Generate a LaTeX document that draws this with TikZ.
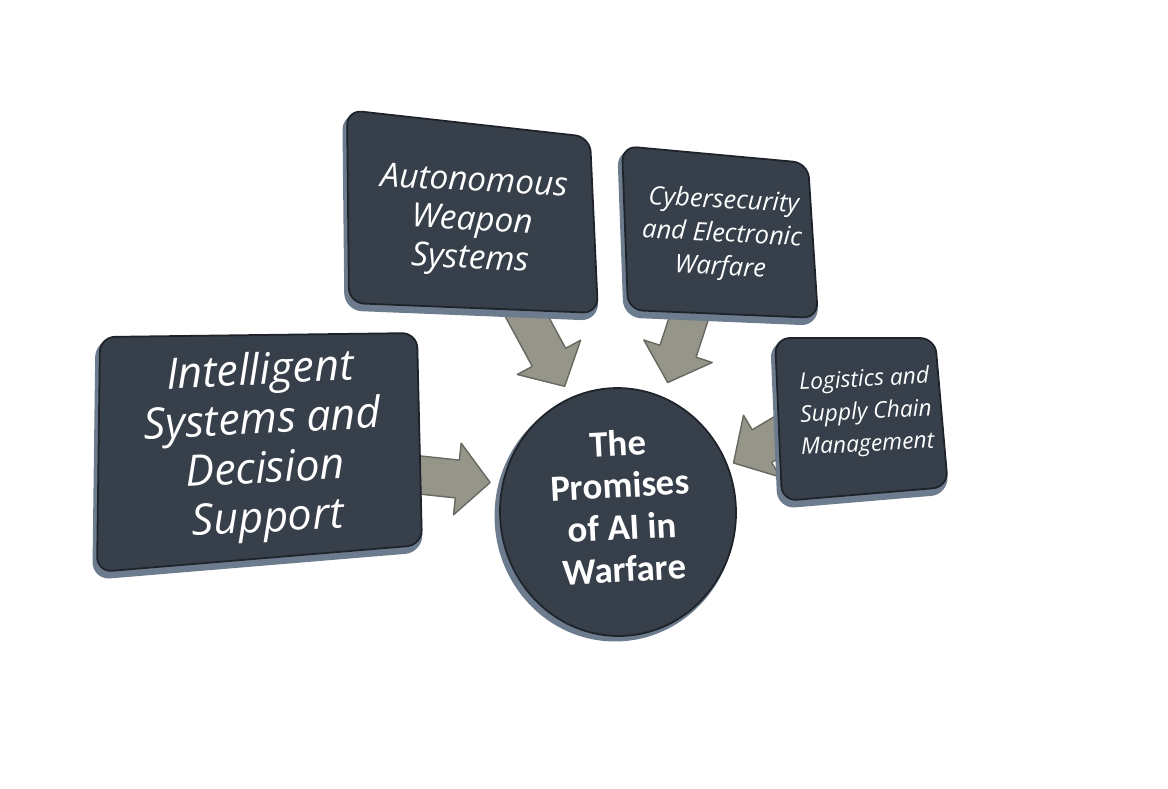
\documentclass[tikz,border=0pt]{standalone}
\usepackage{fontspec}
\setmainfont{Open Sans}
\newfontfamily\corefont{Carlito}
\usetikzlibrary{calc,shapes.geometric}

\definecolor{slate}{RGB}{54,63,74}
\definecolor{slateedge}{RGB}{30,35,42}
\definecolor{rimblue}{RGB}{108,124,142}
\definecolor{arrowfill}{RGB}{150,149,138}
\definecolor{arrowedge}{RGB}{105,104,96}

\tikzset{
  panel/.style={fill=slate,draw=slateedge,line width=1pt,rounded corners=0.3cm},
  rim/.style={fill=rimblue,draw=rimblue,line width=3pt,rounded corners=0.3cm},
  boxtext/.style={text=white,align=center},
  arrowbody/.style={fill=arrowfill,draw=arrowedge,line width=0.8pt,line join=round}
}

\newcommand{\fatarrow}[2]{%
  \coordinate (fa-s) at ($(#1)!-0.5cm!(#2)$);
  \coordinate (fa-h) at ($(#2)!0.66cm!(#1)$);
  \filldraw[arrowbody] ($(fa-s)!0.38cm!90:(#2)$) -- ($(fa-h)!0.38cm!90:(#2)$)
    -- ($(fa-h)!0.72cm!90:(#2)$) -- (#2) -- ($(fa-h)!0.72cm!-90:(#2)$)
    -- ($(fa-h)!0.38cm!-90:(#2)$) -- ($(fa-s)!0.38cm!-90:(#2)$) -- cycle;}

\newcommand{\drawpanel}[1]{%
  \filldraw[rim] ([shift={(-2,5)}]#1-nw) -- ([shift={(-2,5)}]#1-ne)
    -- ([shift={(-2,5)}]#1-se) -- ([shift={(-2,5)}]#1-sw) -- cycle;
  \draw[panel] (#1-nw) -- (#1-ne) -- (#1-se) -- (#1-sw) -- cycle;}

\begin{document}
\begin{tikzpicture}[x=0.02cm,y=-0.02cm]
\useasboundingbox (0,0) rectangle (1168,788);

\coordinate (isds-nw) at (100,337); \coordinate (isds-ne) at (417,333);
\coordinate (isds-se) at (422,545); \coordinate (isds-sw) at (97,572);
\coordinate (aws-nw) at (347,110); \coordinate (aws-ne) at (590,137);
\coordinate (aws-se) at (598,313); \coordinate (aws-sw) at (349,303);
\coordinate (cew-nw) at (622,146); \coordinate (cew-ne) at (808,163);
\coordinate (cew-se) at (818,318); \coordinate (cew-sw) at (628,310);
\coordinate (lscm-nw) at (775,338); \coordinate (lscm-ne) at (935,338);
\coordinate (lscm-se) at (948,487); \coordinate (lscm-sw) at (782,501);

% centre
\fill[rimblue] (615,516) ellipse (2.41cm and 2.51cm);
\node[ellipse,fill=slate,draw=slateedge,line width=1pt,inner sep=0pt,
  minimum width=4.72cm,minimum height=4.96cm,rotate=3] (core) at (618,512) {};
\node[boxtext,rotate=3,font=\corefont\bfseries\fontsize{21}{24}\selectfont]
  (corelbl) at (621,506) {The\\Promises\\of AI in\\Warfare};

\coordinate (t1) at ($(core.center)!1.1!(core.164)$);
\coordinate (t2) at ($(core.center)!1.1!(core.110)$);
\coordinate (t3) at ($(core.center)!1.12!(core.66)$);
\coordinate (t4) at ($(core.center)!1.05!(core.20)$);
\coordinate (b1) at ($(isds-ne)!0.67!(isds-se)$);
\coordinate (b2) at ($(aws-sw)!0.7!(aws-se)$);
\coordinate (b3) at ($(cew-sw)!0.33!(cew-se)$);
\coordinate (b4) at ($(lscm-nw)!0.6!(lscm-sw)$);
\fatarrow{b1}{t1}
\fatarrow{b2}{t2}
\fatarrow{b3}{t3}
\fatarrow{b4}{t4}

\drawpanel{isds}
\drawpanel{aws}
\drawpanel{cew}
\drawpanel{lscm}

\node[boxtext,rotate=3,font=\itshape\fontsize{24.5}{28}\selectfont] (isds) at (264,447)
  {Intelligent\\Systems and\\Decision\\Support};
\node[boxtext,rotate=-3,font=\itshape\fontsize{19}{22}\selectfont] (aws) at (472,222)
  {Autonomous\\Weapon\\Systems};
\node[boxtext,rotate=-3,font=\itshape\fontsize{14.5}{19}\selectfont] (cew) at (722,235)
  {Cybersecurity\\and Electronic\\Warfare};
\node[boxtext,rotate=3,font=\itshape\fontsize{13}{18.5}\selectfont] (lscm) at (866,413)
  {Logistics and\\Supply Chain\\Management};
\end{tikzpicture}
\end{document}
